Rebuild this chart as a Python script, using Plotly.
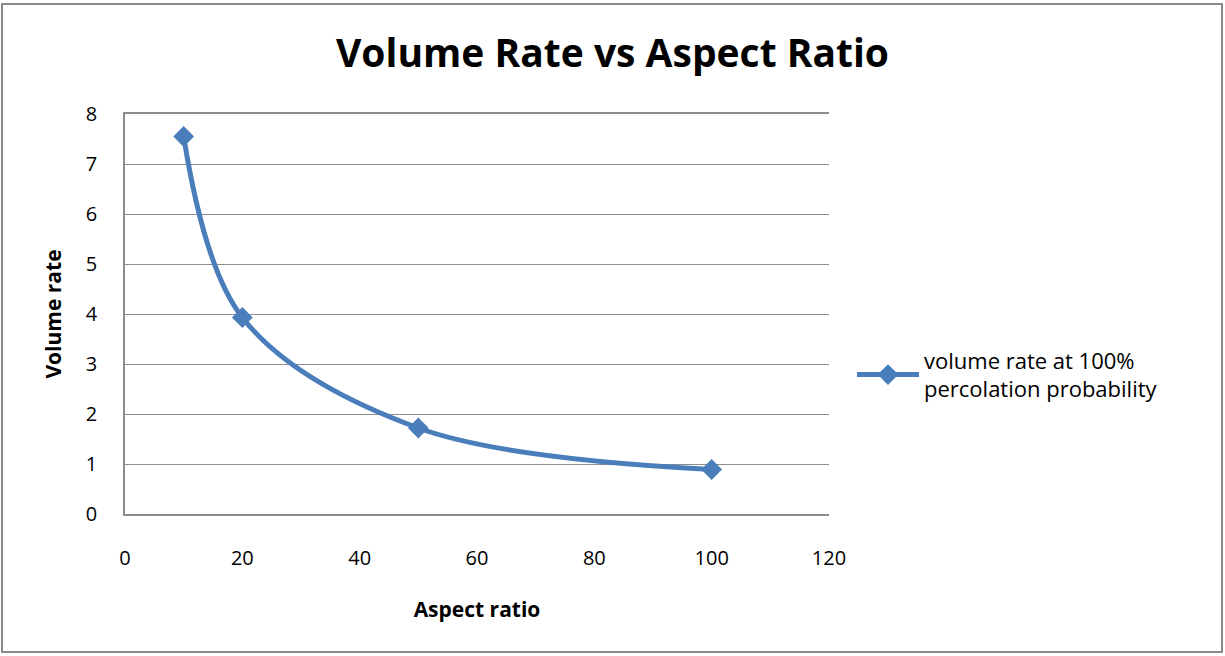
import plotly.graph_objects as go

aspect_ratio = [10, 20, 50, 100]
volume_rate = [7.55, 3.93, 1.72, 0.89]
series_name = "volume rate at 100%<br>percolation probability"

x_ticks = [0, 20, 40, 60, 80, 100, 120]
y_ticks = [0, 1, 2, 3, 4, 5, 6, 7, 8]

blue = "#4A7EBB"
grid_grey = "#8c8c8c"
font_family = "'Open Sans', 'Liberation Sans', sans-serif"

fig = go.Figure()
fig.add_trace(go.Scatter(
    x=aspect_ratio,
    y=volume_rate,
    mode="lines+markers",
    name=series_name,
    line=dict(color=blue, width=5, shape="spline", smoothing=1.0),
    marker=dict(symbol="diamond", size=16, color=blue),
))

L, R, T, B = 125, 396, 114, 142
W, H = 1225, 656
pw, ph = W - L - R, H - T - B


def px_x(p):
    return (p - L) / pw


def px_y(p):
    return (H - B - p) / ph


fig.update_layout(
    width=W,
    height=H,
    margin=dict(l=L, r=R, t=T, b=B),
    paper_bgcolor="white",
    plot_bgcolor="white",
    font=dict(family=font_family, size=16, color="black"),
    title=dict(
        text="<b>Volume Rate vs Aspect Ratio</b>",
        font=dict(size=39, family=font_family, color="black"),
        x=0.5,
        xref="container",
        xanchor="center",
        y=1 - 53 / H,
        yref="container",
        yanchor="middle",
    ),
    showlegend=True,
    legend=dict(
        x=px_x(852),
        y=px_y(375),
        xanchor="left",
        yanchor="middle",
        font=dict(size=22, family=font_family),
        bgcolor="rgba(0,0,0,0)",
        itemwidth=62,
    ),
    xaxis=dict(
        range=[0, 120],
        tickvals=x_ticks,
        showgrid=False,
        zeroline=False,
        showline=True,
        mirror=True,
        linecolor=grid_grey,
        linewidth=1.5,
        ticks="",
        ticklabelstandoff=25,
        tickfont=dict(size=20),
        title=dict(text="<b>Aspect ratio</b>", font=dict(size=21), standoff=33),
    ),
    yaxis=dict(
        range=[0, 8],
        tickvals=y_ticks,
        showgrid=True,
        gridcolor=grid_grey,
        gridwidth=1,
        zeroline=False,
        showline=True,
        linecolor=grid_grey,
        linewidth=1.5,
        ticks="",
        ticklabelstandoff=22,
        tickfont=dict(size=20),
        title=dict(text="<b>Volume rate</b>", font=dict(size=21), standoff=18),
    ),
    shapes=[
        dict(
            type="rect",
            xref="paper",
            yref="paper",
            x0=px_x(2),
            x1=px_x(1222),
            y0=px_y(652),
            y1=px_y(4),
            line=dict(color="#8a8a8a", width=2),
            layer="below",
        )
    ],
)

fig.write_html("out.html")
